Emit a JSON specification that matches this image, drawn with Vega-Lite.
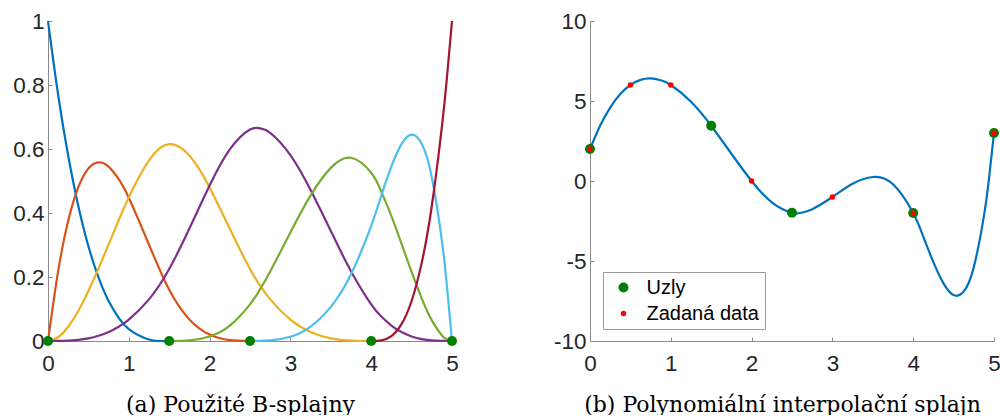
{
  "$schema": "https://vega.github.io/schema/vega-lite/v6.json",
  "padding": {"left": 12, "top": 10, "right": 0, "bottom": 0},
  "autosize": {"type": "pad"},
  "background": "white",
  "spacing": 138,
  "bounds": "flush",
  "resolve": {
    "scale": {"color": "independent", "size": "independent"},
    "legend": {"color": "independent", "size": "independent"}
  },
  "config": {
    "view": {"stroke": null},
    "axis": {
      "grid": false,
      "domainColor": "#8a8a8a",
      "domainWidth": 1,
      "tickColor": "#8a8a8a",
      "tickSize": -4,
      "tickWidth": 1,
      "labelFont": "Liberation Sans",
      "labelFontSize": 22.5,
      "labelColor": "#262626",
      "titleFont": "DejaVu Serif",
      "titleFontSize": 22,
      "titleFontWeight": "normal",
      "titleColor": "#000000",
      "labelFlush": false,
      "labelOverlap": false
    }
  },
  "datasets": {
    "basis": [
      {"x": 0, "b": 1, "s": "B1"}, {"x": 0.125, "b": 0.7703, "s": "B1"}, {"x": 0.25, "b": 0.5787, "s": "B1"}, {"x": 0.375, "b": 0.4219, "s": "B1"}, {"x": 0.5, "b": 0.2963, "s": "B1"}, {"x": 0.625, "b": 0.1985, "s": "B1"}, {"x": 0.75, "b": 0.125, "s": "B1"}, {"x": 0.875, "b": 0.0723, "s": "B1"}, {"x": 1, "b": 0.037, "s": "B1"}, {"x": 1.25, "b": 0.0046, "s": "B1"}, {"x": 1.5, "b": 0, "s": "B1"},
      {"x": 0, "b": 0, "s": "B2"}, {"x": 0.125, "b": 0.2178, "s": "B2"}, {"x": 0.25, "b": 0.3757, "s": "B2"}, {"x": 0.375, "b": 0.4806, "s": "B2"}, {"x": 0.5, "b": 0.5393, "s": "B2"}, {"x": 0.625, "b": 0.5584, "s": "B2"}, {"x": 0.75, "b": 0.545, "s": "B2"}, {"x": 0.875, "b": 0.5057, "s": "B2"}, {"x": 1, "b": 0.4474, "s": "B2"}, {"x": 1.25, "b": 0.3009, "s": "B2"}, {"x": 1.5, "b": 0.16, "s": "B2"}, {"x": 1.75, "b": 0.0675, "s": "B2"}, {"x": 2, "b": 0.02, "s": "B2"}, {"x": 2.25, "b": 0.0025, "s": "B2"}, {"x": 2.5, "b": 0, "s": "B2"},
      {"x": 0, "b": 0, "s": "B3"}, {"x": 0.125, "b": 0.0118, "s": "B3"}, {"x": 0.25, "b": 0.0445, "s": "B3"}, {"x": 0.375, "b": 0.094, "s": "B3"}, {"x": 0.5, "b": 0.1561, "s": "B3"}, {"x": 0.625, "b": 0.2268, "s": "B3"}, {"x": 0.75, "b": 0.3019, "s": "B3"}, {"x": 0.875, "b": 0.3773, "s": "B3"}, {"x": 1, "b": 0.4489, "s": "B3"}, {"x": 1.25, "b": 0.5642, "s": "B3"}, {"x": 1.5, "b": 0.615, "s": "B3"}, {"x": 1.75, "b": 0.5794, "s": "B3"}, {"x": 2, "b": 0.48, "s": "B3"}, {"x": 2.25, "b": 0.3506, "s": "B3"}, {"x": 2.5, "b": 0.225, "s": "B3"}, {"x": 2.625, "b": 0.1733, "s": "B3"}, {"x": 2.75, "b": 0.1302, "s": "B3"}, {"x": 3, "b": 0.0667, "s": "B3"}, {"x": 3.25, "b": 0.0281, "s": "B3"}, {"x": 3.5, "b": 0.0083, "s": "B3"}, {"x": 3.75, "b": 0.001, "s": "B3"}, {"x": 4, "b": 0, "s": "B3"},
      {"x": 0, "b": 0, "s": "B4"}, {"x": 0.125, "b": 0.0001, "s": "B4"}, {"x": 0.25, "b": 0.001, "s": "B4"}, {"x": 0.375, "b": 0.0035, "s": "B4"}, {"x": 0.5, "b": 0.0083, "s": "B4"}, {"x": 0.625, "b": 0.0163, "s": "B4"}, {"x": 0.75, "b": 0.0281, "s": "B4"}, {"x": 0.875, "b": 0.0447, "s": "B4"}, {"x": 1, "b": 0.0667, "s": "B4"}, {"x": 1.25, "b": 0.1302, "s": "B4"}, {"x": 1.5, "b": 0.225, "s": "B4"}, {"x": 1.75, "b": 0.3513, "s": "B4"}, {"x": 2, "b": 0.4857, "s": "B4"}, {"x": 2.25, "b": 0.5987, "s": "B4"}, {"x": 2.5, "b": 0.6607, "s": "B4"}, {"x": 2.625, "b": 0.6645, "s": "B4"}, {"x": 2.75, "b": 0.6507, "s": "B4"}, {"x": 3, "b": 0.581, "s": "B4"}, {"x": 3.25, "b": 0.4719, "s": "B4"}, {"x": 3.5, "b": 0.344, "s": "B4"}, {"x": 3.75, "b": 0.218, "s": "B4"}, {"x": 4, "b": 0.1143, "s": "B4"}, {"x": 4.125, "b": 0.0766, "s": "B4"}, {"x": 4.25, "b": 0.0482, "s": "B4"}, {"x": 4.375, "b": 0.0279, "s": "B4"}, {"x": 4.5, "b": 0.0143, "s": "B4"}, {"x": 4.625, "b": 0.006, "s": "B4"}, {"x": 4.75, "b": 0.0018, "s": "B4"}, {"x": 4.875, "b": 0.0002, "s": "B4"}, {"x": 5, "b": 0, "s": "B4"},
      {"x": 1.5, "b": 0, "s": "B5"}, {"x": 1.75, "b": 0.0018, "s": "B5"}, {"x": 2, "b": 0.0143, "s": "B5"}, {"x": 2.25, "b": 0.0482, "s": "B5"}, {"x": 2.5, "b": 0.1143, "s": "B5"}, {"x": 2.625, "b": 0.162, "s": "B5"}, {"x": 2.75, "b": 0.2174, "s": "B5"}, {"x": 3, "b": 0.339, "s": "B5"}, {"x": 3.25, "b": 0.455, "s": "B5"}, {"x": 3.5, "b": 0.541, "s": "B5"}, {"x": 3.75, "b": 0.5726, "s": "B5"}, {"x": 4, "b": 0.5257, "s": "B5"}, {"x": 4.125, "b": 0.467, "s": "B5"}, {"x": 4.25, "b": 0.3905, "s": "B5"}, {"x": 4.375, "b": 0.3041, "s": "B5"}, {"x": 4.5, "b": 0.2157, "s": "B5"}, {"x": 4.625, "b": 0.1332, "s": "B5"}, {"x": 4.75, "b": 0.0645, "s": "B5"}, {"x": 4.875, "b": 0.0174, "s": "B5"}, {"x": 4.9375, "b": 0.0045, "s": "B5"}, {"x": 5, "b": 0, "s": "B5"},
      {"x": 2.5, "b": 0, "s": "B6"}, {"x": 2.625, "b": 0.0002, "s": "B6"}, {"x": 2.75, "b": 0.0017, "s": "B6"}, {"x": 3, "b": 0.0133, "s": "B6"}, {"x": 3.25, "b": 0.045, "s": "B6"}, {"x": 3.5, "b": 0.1067, "s": "B6"}, {"x": 3.75, "b": 0.2083, "s": "B6"}, {"x": 4, "b": 0.36, "s": "B6"}, {"x": 4.125, "b": 0.4545, "s": "B6"}, {"x": 4.25, "b": 0.5456, "s": "B6"}, {"x": 4.375, "b": 0.6152, "s": "B6"}, {"x": 4.5, "b": 0.645, "s": "B6"}, {"x": 4.625, "b": 0.6166, "s": "B6"}, {"x": 4.75, "b": 0.5119, "s": "B6"}, {"x": 4.875, "b": 0.3124, "s": "B6"}, {"x": 4.9375, "b": 0.1715, "s": "B6"}, {"x": 5, "b": 0, "s": "B6"},
      {"x": 4, "b": 0, "s": "B7"}, {"x": 4.125, "b": 0.002, "s": "B7"}, {"x": 4.25, "b": 0.0156, "s": "B7"}, {"x": 4.375, "b": 0.0527, "s": "B7"}, {"x": 4.5, "b": 0.125, "s": "B7"}, {"x": 4.625, "b": 0.2441, "s": "B7"}, {"x": 4.75, "b": 0.4219, "s": "B7"}, {"x": 4.875, "b": 0.6699, "s": "B7"}, {"x": 4.9375, "b": 0.824, "s": "B7"}, {"x": 5, "b": 1, "s": "B7"}
    ],
    "knots": [
      {"x": 0, "b": 0}, {"x": 1.5, "b": 0}, {"x": 2.5, "b": 0}, {"x": 4, "b": 0}, {"x": 5, "b": 0}
    ],
    "spline": [
      {"x": 0, "y": 2}, {"x": 0.125, "y": 3.4545}, {"x": 0.25, "y": 4.5909}, {"x": 0.375, "y": 5.4318}, {"x": 0.5, "y": 6}, {"x": 0.625, "y": 6.3182}, {"x": 0.75, "y": 6.4092}, {"x": 0.875, "y": 6.2955}, {"x": 1, "y": 6}, {"x": 1.25, "y": 4.9544}, {"x": 1.5, "y": 3.4539}, {"x": 1.75, "y": 1.7035}, {"x": 2, "y": 0}, {"x": 2.25, "y": -1.3367}, {"x": 2.5, "y": -1.9866}, {"x": 2.625, "y": -1.9704}, {"x": 2.75, "y": -1.7615}, {"x": 3, "y": -1}, {"x": 3.25, "y": -0.1727}, {"x": 3.5, "y": 0.25}, {"x": 3.75, "y": -0.2023}, {"x": 4, "y": -2}, {"x": 4.125, "y": -3.4819}, {"x": 4.25, "y": -5.0658}, {"x": 4.375, "y": -6.3998}, {"x": 4.5, "y": -7.1317}, {"x": 4.625, "y": -6.9097}, {"x": 4.75, "y": -5.3817}, {"x": 4.875, "y": -2.1958}, {"x": 4.9375, "y": 0.1289}, {"x": 5, "y": 3}
    ],
    "pts": [
      {"x": 0, "y": 2, "t": "Uzly"}, {"x": 1.5, "y": 3.4539, "t": "Uzly"}, {"x": 2.5, "y": -1.9866, "t": "Uzly"}, {"x": 4, "y": -2, "t": "Uzly"}, {"x": 5, "y": 3, "t": "Uzly"},
      {"x": 0, "y": 2, "t": "Zadaná data"}, {"x": 0.5, "y": 6, "t": "Zadaná data"}, {"x": 1, "y": 6, "t": "Zadaná data"}, {"x": 2, "y": 0, "t": "Zadaná data"}, {"x": 3, "y": -1, "t": "Zadaná data"}, {"x": 4, "y": -2, "t": "Zadaná data"}, {"x": 5, "y": 3, "t": "Zadaná data"}
    ]
  },
  "hconcat": [
    {
      "width": 404,
      "height": 320,
      "layer": [
        {
          "data": {"name": "basis"},
          "mark": {"type": "line", "interpolate": "natural", "strokeWidth": 2.2},
          "encoding": {
            "x": {"field": "x", "type": "quantitative", "scale": {"domain": [0, 5], "nice": false},
              "axis": {"values": [0, 1, 2, 3, 4, 5], "title": "(a) Použité B-splajny", "labelPadding": 15, "labelExpr": "'' + datum.value", "titleX": 192, "titleY": 70, "titleBaseline": "alphabetic"}},
            "y": {"field": "b", "type": "quantitative", "scale": {"domain": [0, 1], "nice": false},
              "axis": {"values": [0, 0.2, 0.4, 0.6, 0.8, 1], "title": null, "labelPadding": 8, "labelExpr": "'' + datum.value"}},
            "color": {"field": "s", "type": "nominal", "legend": null,
              "scale": {"domain": ["B1", "B2", "B3", "B4", "B5", "B6", "B7"], "range": ["#0072BD", "#D95319", "#EDB120", "#7E2F8E", "#77AC30", "#4DBEEE", "#A2142F"]}}
          }
        },
        {
          "data": {"name": "knots"},
          "mark": {"type": "point", "filled": true, "opacity": 1, "color": "#008000", "size": 100},
          "encoding": {
            "x": {"field": "x", "type": "quantitative"},
            "y": {"field": "b", "type": "quantitative"}
          }
        }
      ]
    },
    {
      "width": 404,
      "height": 320,
      "layer": [
        {
          "data": {"name": "spline"},
          "mark": {"type": "line", "interpolate": "natural", "strokeWidth": 2.2, "color": "#0072BD"},
          "encoding": {
            "x": {"field": "x", "type": "quantitative", "scale": {"domain": [0, 5], "nice": false},
              "axis": {"values": [0, 1, 2, 3, 4, 5], "title": "(b) Polynomiální interpolační splajn", "labelPadding": 15, "labelExpr": "'' + datum.value", "titleX": 192, "titleY": 70, "titleBaseline": "alphabetic"}},
            "y": {"field": "y", "type": "quantitative", "scale": {"domain": [-10, 10], "nice": false},
              "axis": {"values": [-10, -5, 0, 5, 10], "title": null, "labelPadding": 8, "labelExpr": "'' + datum.value"}}
          }
        },
        {
          "data": {"name": "pts"},
          "mark": {"type": "point", "filled": true, "opacity": 1},
          "encoding": {
            "x": {"field": "x", "type": "quantitative"},
            "y": {"field": "y", "type": "quantitative"},
            "color": {"field": "t", "type": "nominal",
              "scale": {"domain": ["Uzly", "Zadaná data"], "range": ["#008000", "#ff0000"]},
              "legend": {"title": null, "orient": "none", "legendX": 13, "legendY": 251, "strokeColor": "#9a9a9a", "fillColor": "white", "padding": 5.5, "rowPadding": 6, "labelFont": "Liberation Sans", "labelFontSize": 20, "labelColor": "#000000", "symbolOffset": 5, "labelOffset": 13, "symbolStrokeWidth": 0, "symbolType": "circle"}},
            "size": {"field": "t", "type": "nominal",
              "scale": {"domain": ["Uzly", "Zadaná data"], "range": [100, 30]},
              "legend": {"title": null, "orient": "none", "legendX": 13, "legendY": 251, "strokeColor": "#9a9a9a", "fillColor": "white", "padding": 5.5, "rowPadding": 6, "labelFont": "Liberation Sans", "labelFontSize": 20, "labelColor": "#000000", "symbolOffset": 5, "labelOffset": 13, "symbolStrokeWidth": 0, "symbolType": "circle"}}
          }
        }
      ]
    }
  ]
}
